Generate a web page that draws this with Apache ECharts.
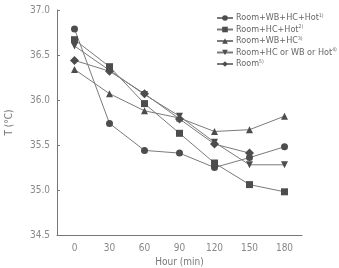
<!DOCTYPE html>
<html>
<head>
<meta charset="utf-8">
<script src="https://cdn.jsdelivr.net/npm/echarts@6/dist/echarts.min.js"></script>
<style>
  html, body { margin: 0; padding: 0; background: #fff; }
  #chart { width: 339px; height: 268px; }
</style>
</head>
<body>
<div id="chart"></div>
<script>
// 시간 (min)
var hours = ['0', '30', '60', '90', '120', '150', '180'];
var yTicks = [34.5, 35.0, 35.5, 36.0, 36.5, 37.0];

var names = ['Room+WB+HC+Hot', 'Room+HC+Hot', 'Room+WB+HC', 'Room+HC or WB or Hot', 'Room'];
var notes = ['1)', '2)', '3)', '4)', '5)'];
var symbols = ['circle', 'rect', 'triangle', 'path://M0,0 L10,0 L5,10 Z', 'diamond'];

var allFour = [36.79, 35.74, 35.44, 35.41, 35.25, 35.36, 35.48];
var hcHot = [36.67, 36.37, 35.96, 35.63, 35.30, 35.06, 34.98];
var wbHc = [36.34, 36.07, 35.88, 35.80, 35.65, 35.67, 35.82];
var anyOne = [36.60, 36.33, 36.06, 35.82, 35.53, 35.28, 35.28];
var roomOnly = [36.44, 36.32, 36.07, 35.79, 35.51, 35.41, null];

var seriesData = [allFour, hcHot, wbHc, anyOne, roomOnly];
var font = "'Liberation Sans Narrow', 'DejaVu Sans Condensed', sans-serif";

var chart = echarts.init(document.getElementById('chart'));
var series = seriesData.map(function (d, i) {
  return {
    name: names[i],
    type: 'line',
    data: d,
    symbol: symbols[i],
    symbolSize: i == 4 ? 9 : 7,
    lineStyle: { color: '#7a7a7a', width: 1 },
    itemStyle: { color: '#4d4d4d' },
    connectNulls: false,
    animation: false
  };
});

chart.setOption({
  animation: false,
  textStyle: { fontFamily: font },
  legend: {
    orient: 'vertical',
    left: 211,
    top: 8,
    itemWidth: 16,
    itemHeight: 7,
    itemGap: 2,
    data: names,
    formatter: function (n) {
      return n + '{sup|' + notes[names.indexOf(n)] + '}';
    },
    textStyle: {
      color: '#666',
      fontSize: 9,
      fontFamily: font,
      padding: [0, 0, 0, -2],
      rich: { sup: { fontSize: 5, color: '#666', padding: [0, 0, 5, 0], fontFamily: font } }
    }
  },
  grid: { left: 57, right: 37, top: 10, bottom: 33, outerBoundsMode: 'none' },
  xAxis: {
    type: 'category',
    data: hours,
    boundaryGap: true,
    name: 'Hour (min)',
    nameLocation: 'middle',
    nameGap: 21,
    nameTextStyle: { color: '#777', fontSize: 10 },
    axisLine: { lineStyle: { color: '#777' } },
    axisTick: { inside: true, length: 3, lineStyle: { color: '#777' } },
    axisLabel: { color: '#888', fontSize: 10, margin: 8 }
  },
  yAxis: {
    type: 'value',
    min: yTicks[0],
    max: yTicks[yTicks.length - 1],
    interval: 0.5,
    name: 'T (°C)',
    nameLocation: 'middle',
    nameGap: 43,
    nameTextStyle: { color: '#777', fontSize: 10 },
    splitLine: { show: false },
    axisLine: { show: true, lineStyle: { color: '#777' } },
    axisTick: { show: true, inside: true, length: 3, lineStyle: { color: '#777' } },
    axisLabel: { color: '#888', fontSize: 10, margin: 7, formatter: function (v) { return v.toFixed(1); } }
  },
  series: series
});
</script>
</body>
</html>
